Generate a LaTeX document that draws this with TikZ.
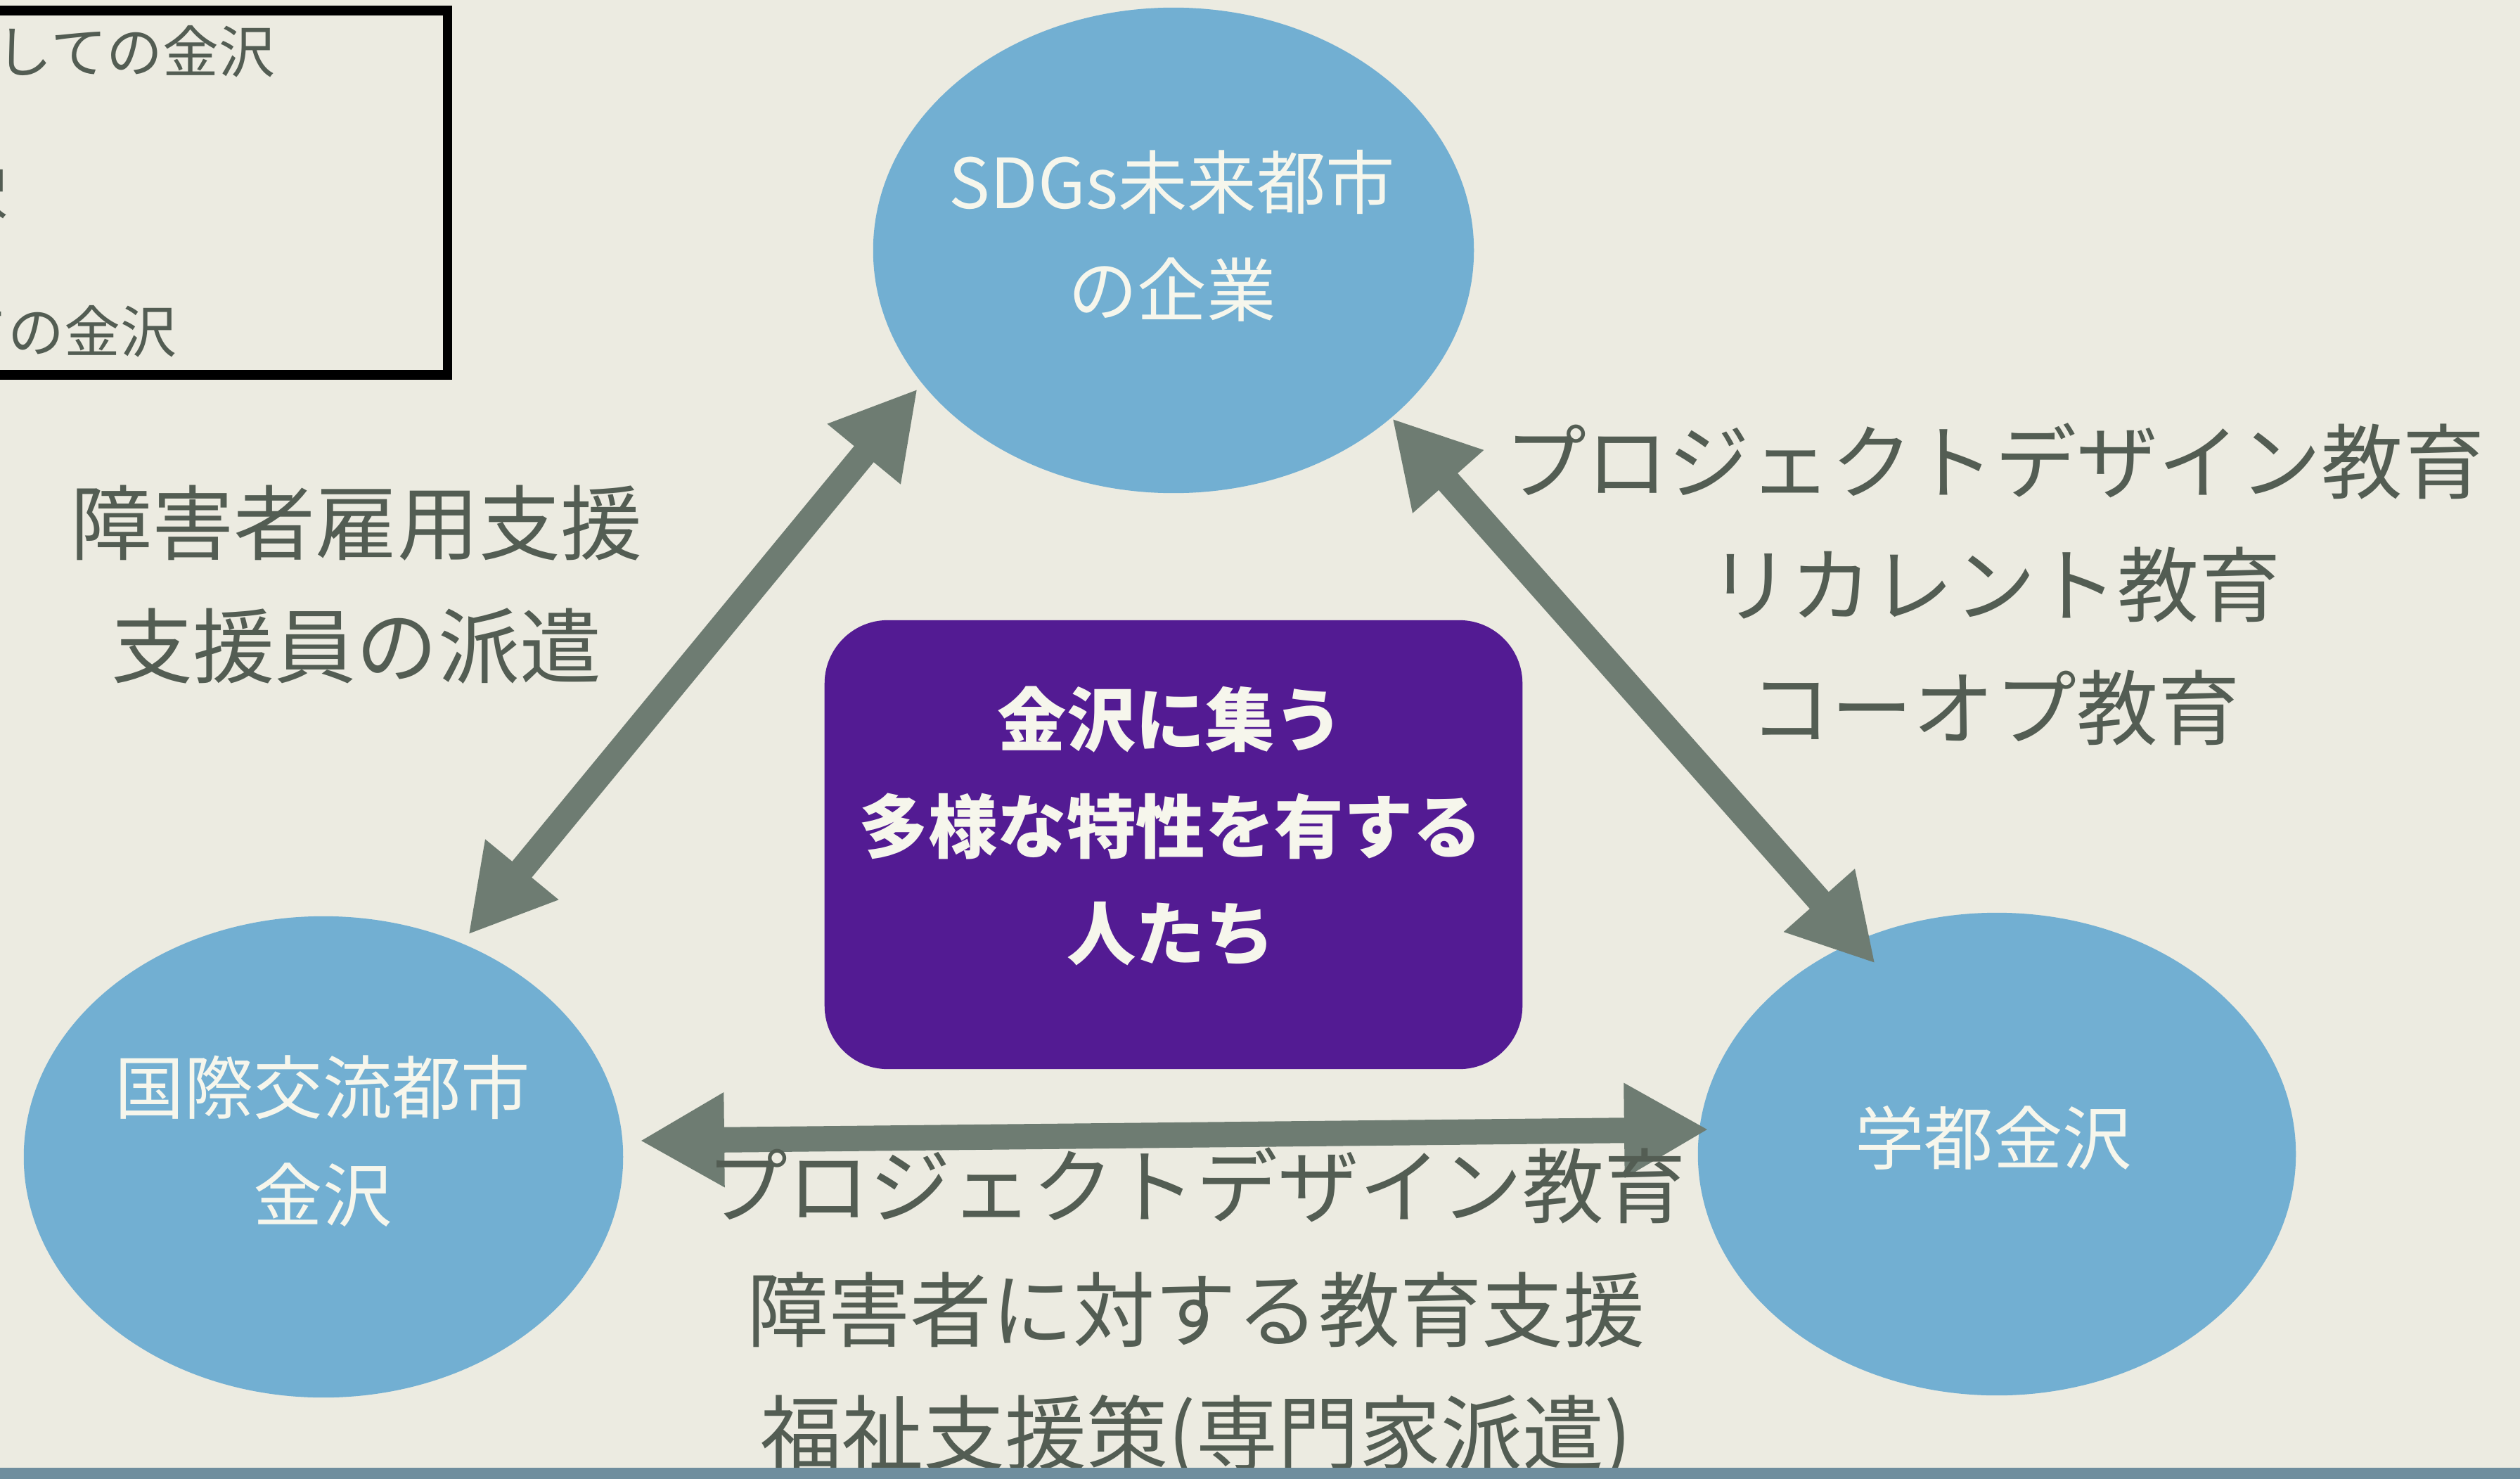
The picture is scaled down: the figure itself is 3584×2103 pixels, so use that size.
\documentclass[tikz,border=0pt]{standalone}
\usepackage{fontspec}
\usetikzlibrary{arrows.meta,shapes.geometric}
\newfontfamily\jp{Noto Sans CJK JP}
\definecolor{bgc}{HTML}{ECEBE1}
\definecolor{ellc}{HTML}{72AFD2}
\definecolor{elltext}{HTML}{F6F6EC}
\definecolor{arrowc}{HTML}{6E7C72}
\definecolor{labelc}{HTML}{535D53}
\definecolor{purplec}{HTML}{531B93}
\definecolor{bandc}{HTML}{6F8E9E}
\tikzset{
  bubble/.style={ellipse, fill=ellc, inner sep=0pt},
  bubbletext/.style={text=elltext, align=center, font=\jp\fontsize{28pt}{43.5pt}\selectfont},
  lbl/.style={text=labelc, align=center, font=\jp\fontsize{33pt}{49.8pt}\selectfont},
  legendtext/.style={text=labelc, font=\jp\fontsize{22.7pt}{30pt}\selectfont, inner sep=0pt},
  biarrow/.style={draw=arrowc, line width=0.36cm,
    {Triangle[length=1.2cm,width=1.26cm]}-{Triangle[length=1.2cm,width=1.26cm]}},
  centerbox/.style={fill=purplec, rounded corners=0.9cm, inner sep=0pt},
}
\begin{document}
\begin{tikzpicture}[x=0.01cm,y=-0.01cm]
\useasboundingbox (0,0) rectangle (3584,2103);
\clip (0,0) rectangle (3584,2103);
\fill[bgc] (0,0) rectangle (3584,2103);

% legend box (partly off canvas)
\draw[line width=0.13cm, black] (-200,15) rectangle (636,533);
\node[legendtext, anchor=east] (lg1) at (392,73) {しての金沢};
\node[legendtext, anchor=east] (lg2) at (12,275) {沢};
\node[legendtext, anchor=east] (lg3) at (252,471) {ての金沢};

% bubbles
\node[bubble, minimum width=8.54cm, minimum height=6.9cm] (top) at (1669,356) {};
\node[bubble, minimum width=8.52cm, minimum height=6.84cm] (left) at (460,1645) {};
\node[bubble, minimum width=8.5cm, minimum height=6.86cm] (right) at (2840,1641) {};

\node[bubbletext] (toptext) at (1667,335) {SDGs未来都市\\の企業};
\node[bubbletext] (lefttext) at (459,1622) {国際交流都市\\金沢};
\node[bubbletext] (righttext) at (2835,1618) {学都金沢};

% center box
\node[centerbox, minimum width=9.92cm, minimum height=6.38cm] (center) at (1669,1201) {};
\node[text=elltext, align=center, font=\jp\bfseries\fontsize{28pt}{43.2pt}\selectfont] (centertext) at (1665,1175)
  {金沢に集う\\多様な特性を有する\\人たち};

% connectors
\coordinate (ltop) at (1305,553);
\coordinate (lbot) at (666,1329);
\coordinate (rtop) at (1980,595);
\coordinate (rbot) at (2667,1370);
\coordinate (hl) at (910,1622);
\coordinate (hr) at (2430,1606);
\draw[biarrow] (lbot) -- (ltop);
\draw[biarrow] (rtop) -- (rbot);
\draw[biarrow] (hl) -- (hr);

% labels
\node[lbl] (leftlbl) at (507,831) {障害者雇用支援\\支援員の派遣};
\node[lbl] (rightlbl) at (2837,831) {プロジェクトデザイン教育\\リカレント教育\\コーオプ教育};
\node[lbl] (bottomlbl) at (1701,1868) {プロジェクトデザイン教育\\障害者に対する教育支援\\福祉支援策(専門家派遣)};

% bottom band
\fill[bandc] (0,2087) rectangle (3584,2103);
\end{tikzpicture}
\end{document}
